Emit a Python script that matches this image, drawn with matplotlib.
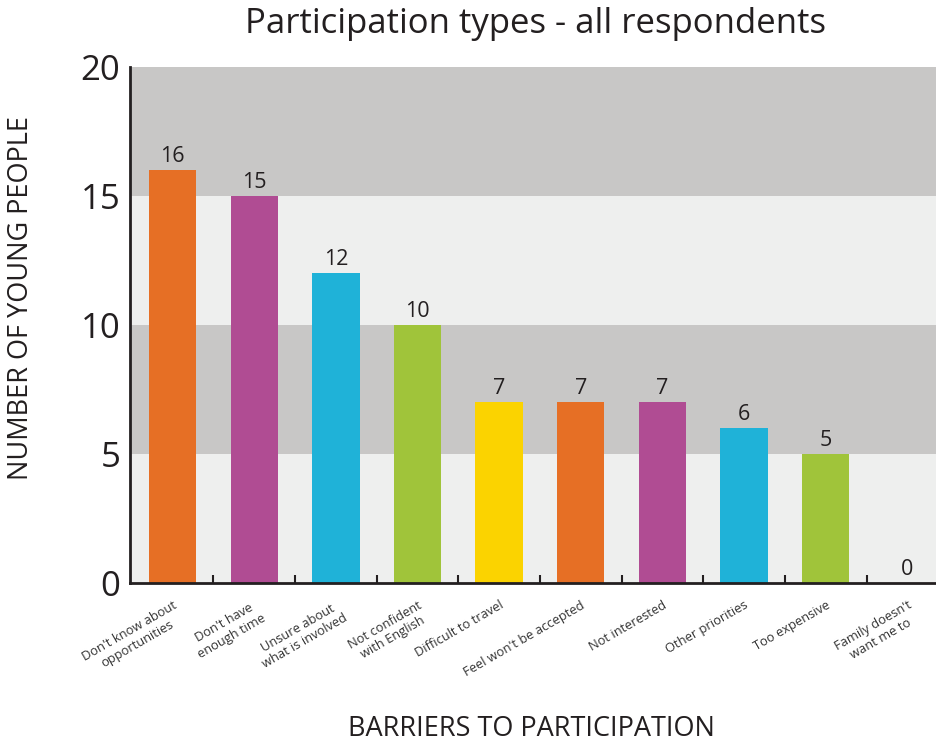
import matplotlib
matplotlib.use("Agg")
import matplotlib.pyplot as plt
import numpy as np

plt.rcParams['font.family'] = ['Open Sans', 'DejaVu Sans']

categories = [
    "Don't know about\nopportunities",
    "Don't have\nenough time",
    "Unsure about\nwhat is involved",
    "Not confident\nwith English",
    "Difficult to travel",
    "Feel won't be accepted",
    "Not interested",
    "Other priorities",
    "Too expensive",
    "Family doesn't\nwant me to",
]
counts = [16, 15, 12, 10, 7, 7, 7, 6, 5, 0]
bar_colors = ["#e66f25", "#b04c93", "#1fb2d8", "#a0c43a", "#fbd300",
              "#e66f25", "#b04c93", "#1fb2d8", "#a0c43a", "#e66f25"]
y_ticks = [0, 5, 10, 15, 20]

fig = plt.figure(figsize=(9.36, 7.45), dpi=100)
ax = fig.add_axes([0.139, 0.2174, 0.861, 0.6926])

x = np.arange(len(categories))
ax.set_xlim(-0.52, 9.35)
ax.set_ylim(0, 20)

# alternating horizontal bands
band_light = "#eeefee"
band_dark = "#c8c7c6"
for i, (lo, hi) in enumerate(zip(y_ticks[:-1], y_ticks[1:])):
    ax.axhspan(lo, hi, color=band_light if i % 2 == 0 else band_dark, zorder=0, lw=0)

ax.bar(x, counts, width=0.58, color=bar_colors, zorder=2)

for xi, v in zip(x, counts):
    ax.text(xi, v + 0.12, str(v), ha="center", va="bottom", fontsize=15.5, color="#231f20", zorder=3)

ax.set_yticks(y_ticks)
ax.set_yticklabels([str(t) for t in y_ticks], fontsize=25, color="#231f20")
ax.tick_params(axis="y", length=0, pad=7)

# category boundaries as small inward ticks
ax.set_xticks(x[:-1] + 0.5)
ax.set_xticklabels([])
ax.tick_params(axis="x", direction="in", length=6, width=1.5, color="#231f20")

for xi, lab in zip(x, categories):
    ax.text(xi, -0.6, lab, rotation=30, rotation_mode="anchor", ha="right", va="top",
            multialignment="center", fontsize=9.3, color="#333333",
            transform=ax.transData, clip_on=False)

for side in ["top", "right"]:
    ax.spines[side].set_visible(False)
for side in ["left", "bottom"]:
    ax.spines[side].set_color("#231f20")
    ax.spines[side].set_linewidth(2)
    ax.spines[side].set_zorder(4)

fig.text(0.572, 0.968, "Participation types - all respondents", ha="center", va="center",
         fontsize=25, color="#231f20")
fig.text(0.022, 0.600, "NUMBER OF YOUNG PEOPLE", rotation=90, ha="center", va="center",
         fontsize=19.5, color="#231f20")
fig.text(0.568, 0.022, "BARRIERS TO PARTICIPATION", ha="center", va="center",
         fontsize=19.5, color="#231f20")

fig.savefig("out.png", dpi=100)
